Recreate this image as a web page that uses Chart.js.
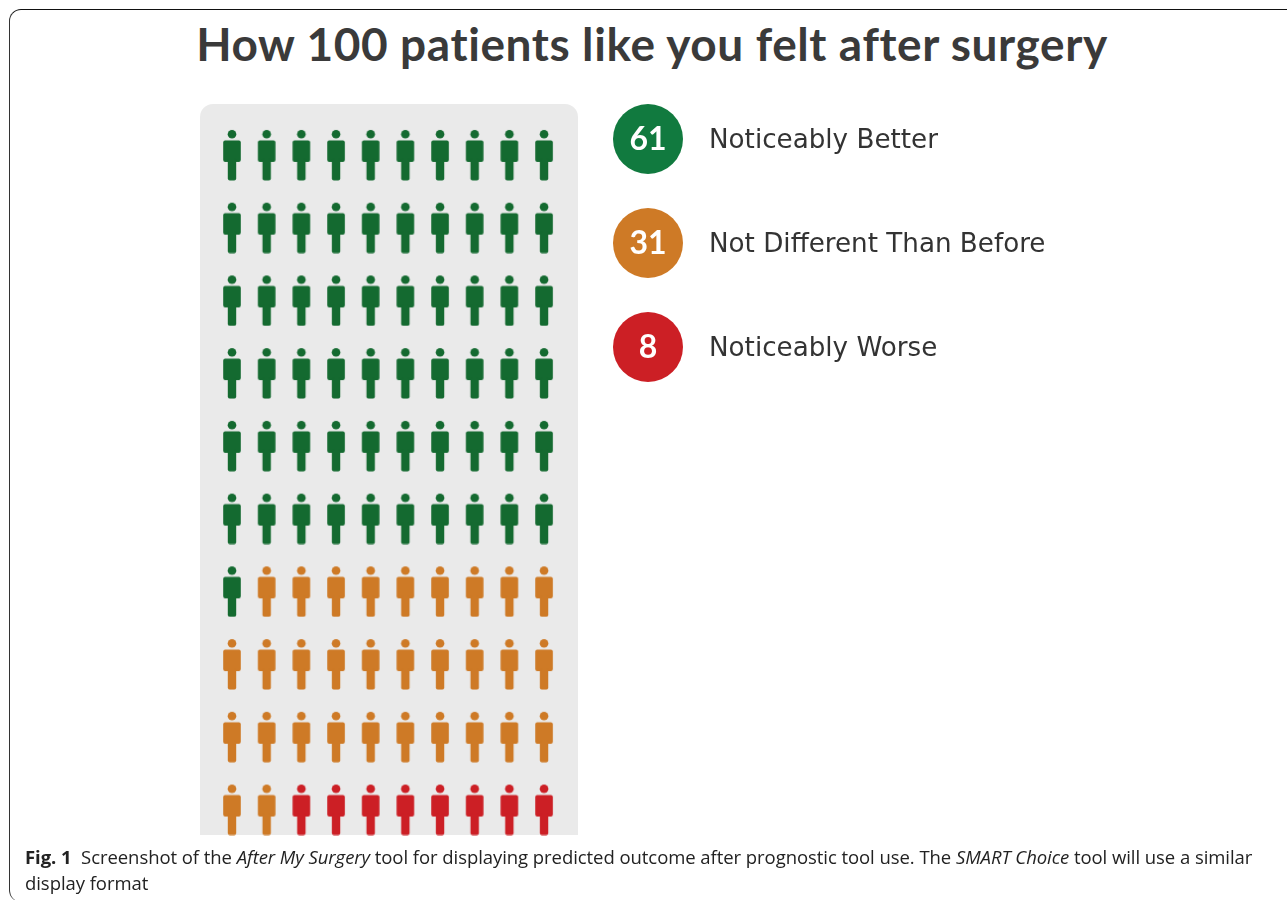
<!DOCTYPE html>
<html>
<head>
<meta charset="utf-8">
<title>How 100 patients like you felt after surgery</title>
<script src="https://cdn.jsdelivr.net/npm/chart.js@4/dist/chart.umd.min.js"></script>
<style>
  html, body { margin: 0; padding: 0; background: #fff; }
  body { position: relative; width: 1287px; height: 900px; overflow: hidden; }
  #frame {
    position: absolute; left: 9px; top: 9px; width: 1300px; height: 892px;
    border-top: 1.5px solid #111; border-left: 1.5px solid #333;
    border-top-left-radius: 12px; border-bottom-left-radius: 12px;
  }
  #title {
    position: absolute; left: 0; top: 16px; width: 1304px; margin: 0; text-align: center;
    font: 700 46px "Lato", sans-serif; color: #3a3a3a; letter-spacing: 0.6px;
  }
  #caption {
    position: absolute; left: 25px; top: 844px; width: 1235px; margin: 0;
    font: 400 18.5px/25.5px "Open Sans", sans-serif; color: #222; letter-spacing: -0.06px;
  }
</style>
</head>
<body>
<div id="frame"></div>
<h1 id="title">How 100 patients like you felt after surgery</h1>
<div style="position:absolute;left:0;top:0;width:1287px;height:900px"><canvas id="patients"></canvas></div>
<div style="position:absolute;left:600px;top:87px;width:464px;height:312px"><canvas id="key"></canvas></div>
<p id="caption"><b>Fig. 1</b>&nbsp; Screenshot of the <i>After My Surgery</i> tool for displaying predicted outcome after prognostic tool use. The <i>SMART Choice</i> tool will use a similar display format</p>

<script>
const categories = ["Noticeably Better", "Not Different Than Before", "Noticeably Worse"]
const counts = [61, 31, 8]
const perRow = 10

const iconColors = ["#146a30", "#ce7a26", "#cc1f25"]
const badgeColors = ["#117a3f", "#ce7a26", "#cc1f25"]

// one little person, used as the point style
function personIcon(color) {
  const c = document.createElement("canvas")
  c.width = 20
  c.height = 52
  const g = c.getContext("2d")
  g.fillStyle = color
  g.filter = "blur(0.4px)"
  g.beginPath()
  g.arc(10, 5.2, 4.3, 0, Math.PI * 2)
  g.fill()
  g.beginPath()
  g.roundRect(1.2, 11.6, 17.6, 21.4, 2)
  g.fill()
  g.beginPath()
  g.roundRect(5.8, 30, 8.4, 21.4, 2)
  g.fill()
  return c
}

// fill the grid row by row, in category order
function gridPoints() {
  const groups = categories.map(() => [])
  let n = 0
  counts.forEach((count, k) => {
    for (let i = 0; i < count; i++, n++) {
      groups[k].push({ x: n % perRow, y: Math.floor(n / perRow) })
    }
  })
  return groups
}

const panelPlugin = {
  id: "panel",
  beforeDraw(chart) {
    const { ctx, chartArea: a } = chart
    ctx.save()
    ctx.fillStyle = "#eaeaea"
    ctx.beginPath()
    ctx.roundRect(a.left, a.top, a.right - a.left, a.bottom - a.top, [13, 13, 0, 0])
    ctx.fill()
    ctx.restore()
  }
}

const countLabels = {
  id: "countLabels",
  afterDatasetsDraw(chart) {
    const { ctx } = chart
    const points = chart.getDatasetMeta(0).data
    ctx.save()
    ctx.fillStyle = "#fff"
    ctx.font = '700 32px "Lato", sans-serif'
    ctx.textAlign = "center"
    ctx.textBaseline = "middle"
    points.forEach((p, i) => ctx.fillText(String(counts[i]), p.x, p.y + 1))
    ctx.restore()
  }
}

Chart.defaults.animation = false

new Chart(document.getElementById("patients"), {
  type: "scatter",
  plugins: [panelPlugin],
  data: {
    datasets: gridPoints().map((points, k) => ({
      label: categories[k],
      data: points,
      pointStyle: personIcon(iconColors[k]),
      clip: false
    }))
  },
  options: {
    responsive: true,
    maintainAspectRatio: false,
    layout: { padding: { left: 200, right: 709, top: 104, bottom: 65 } },
    plugins: { legend: { display: false }, tooltip: { enabled: false } },
    scales: {
      x: { display: false, min: -0.923, max: 9.98 },
      y: { display: false, reverse: true, min: -0.7, max: 9.35 }
    }
  }
})

new Chart(document.getElementById("key"), {
  type: "scatter",
  plugins: [countLabels],
  data: {
    datasets: [{
      data: categories.map(name => ({ x: 0, y: name })),
      backgroundColor: badgeColors,
      borderWidth: 0,
      pointRadius: 35,
      pointHoverRadius: 35,
      clip: false
    }]
  },
  options: {
    responsive: true,
    maintainAspectRatio: false,
    layout: { autoPadding: false },
    plugins: { legend: { display: false }, tooltip: { enabled: false } },
    scales: {
      x: { display: false, min: -1, max: 1.167 },
      y: {
        type: "category",
        position: "right",
        labels: categories,
        offset: true,
        afterFit(scale) { scale.width = 360; scale.paddingTop = 0; scale.paddingBottom = 0 },
        grid: { display: false, drawTicks: false },
        border: { display: false },
        ticks: {
          padding: 5,
          labelOffset: 2,
          color: "#333",
          font: { family: '"DejaVu Sans", sans-serif', size: 26.2 }
        }
      }
    }
  }
})
</script>
</body>
</html>
